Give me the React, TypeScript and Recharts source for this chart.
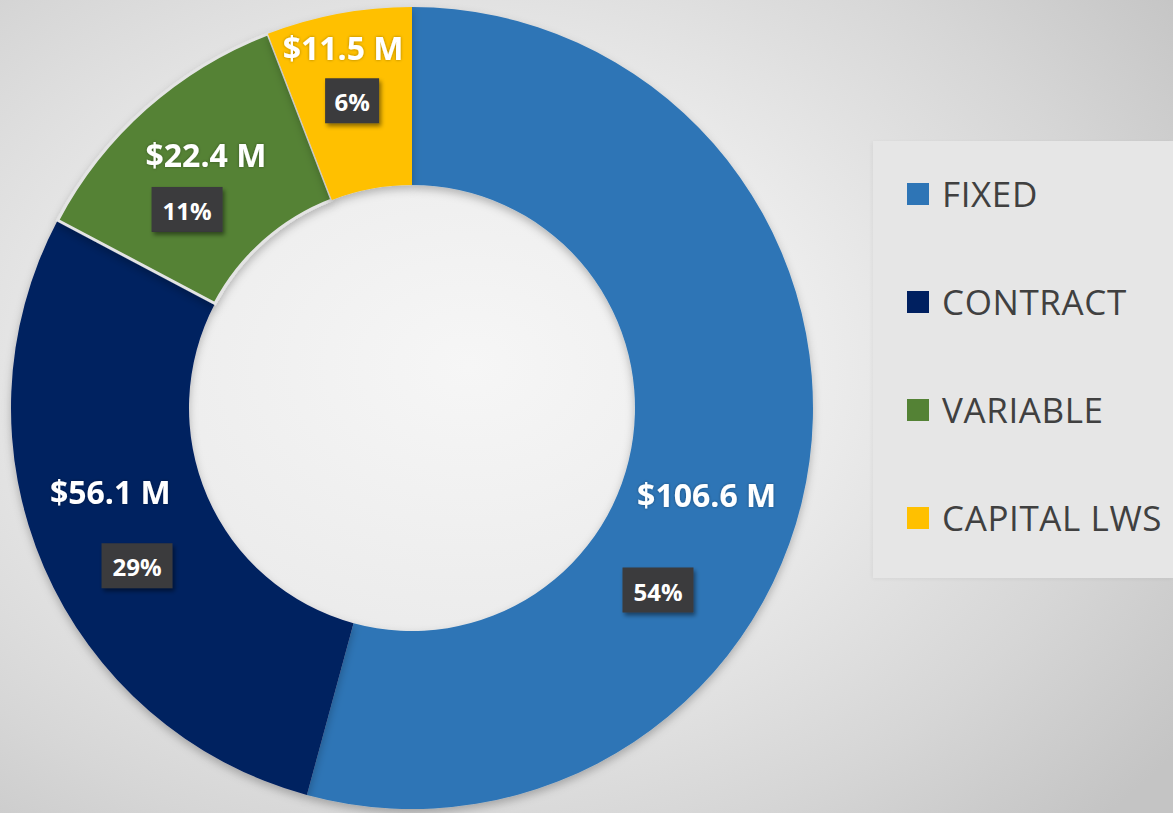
import React from 'react';
import { PieChart, Pie, Cell, Legend } from 'recharts';

const categories = ['FIXED', 'CONTRACT', 'VARIABLE', 'CAPITAL LWS'];
const amounts = [106.6, 56.1, 22.4, 11.5];
const colors = ['#2E75B6', '#002060', '#548235', '#FFC000'];

// label placement tweaks: clockwise angle offset from slice middle (deg) and radius
const valueLabelAngle = [8.7, 8, 2.5, -0.3];
const valueLabelRadius = [307, 313, 327, 367];
const pctLabelAngle = [28.9, -6.4, -7, -0.5];
const pctLabelRadius = [306, 317, 300, 313];

const data = categories.map((name, i) => ({ name, value: amounts[i] }));

const RAD = Math.PI / 180;
const FONT = '"Open Sans", "Liberation Sans", sans-serif';

function polar(cx: number, cy: number, r: number, angle: number) {
  return { x: cx + r * Math.cos(-angle * RAD), y: cy + r * Math.sin(-angle * RAD) };
}

const renderLabel = (props: any) => {
  const { cx, cy, midAngle, percent, value, index } = props;
  const v = polar(cx, cy, valueLabelRadius[index], midAngle - valueLabelAngle[index]);
  const p = polar(cx, cy, pctLabelRadius[index], midAngle - pctLabelAngle[index]);
  const pctText = `${Math.round(percent * 100)}%`;
  const w = 17 * pctText.length + 20;
  const h = 45;
  return (
    <g key={`lbl-${index}`}>
      <text
        x={v.x}
        y={v.y}
        textAnchor="middle"
        dominantBaseline="central"
        fill="#ffffff"
        fontFamily={FONT}
        fontWeight={700}
        fontSize={32}
        style={{ filter: 'url(#txtGlow)' }}
      >
        {`$${value.toFixed(1)} M`}
      </text>
      <rect
        x={p.x - w / 2}
        y={p.y - h / 2}
        width={w}
        height={h}
        fill="#3a3a3c"
        filter="url(#boxShadow)"
      />
      <text
        x={p.x}
        y={p.y + 1}
        textAnchor="middle"
        dominantBaseline="central"
        fill="#ffffff"
        fontFamily={FONT}
        fontWeight={700}
        fontSize={24}
      >
        {pctText}
      </text>
    </g>
  );
};

const LegendBox = () => (
  <div
    style={{
      width: 300,
      height: 437,
      background: '#e6e6e6',
      boxShadow: '-1px 1px 4px rgba(0,0,0,0.05)',
      position: 'relative',
      fontFamily: FONT,
    }}
  >
    {categories.map((c, i) => (
      <div
        key={c}
        style={{
          position: 'absolute',
          left: 34,
          top: 53 + i * 108 - 22,
          height: 44,
          display: 'flex',
          alignItems: 'center',
          whiteSpace: 'nowrap',
        }}
      >
        <span style={{ width: 22, height: 22, background: colors[i], display: 'inline-block', marginRight: 13 }} />
        <span style={{ fontSize: 35, color: '#404040', lineHeight: '44px', letterSpacing: 0.6 }}>{c}</span>
      </div>
    ))}
  </div>
);

export default function App() {
  return (
    <div
      style={{
        position: 'absolute',
        left: 0,
        top: 0,
        width: 1173,
        height: 813,
        overflow: 'hidden',
        background: 'radial-gradient(ellipse 75% 80% at 40% 45%, #f6f6f6 0%, #ececec 40%, #d6d6d6 75%, #c4c4c4 100%)',
      }}
    >
      <svg width={0} height={0} style={{ position: 'absolute' }}>
        <defs>
          <filter id="ringShadow" x="-10%" y="-10%" width="120%" height="125%">
            <feDropShadow dx="0" dy="4" stdDeviation="4" floodColor="#000" floodOpacity="0.25" />
          </filter>
          <filter id="boxShadow" x="-20%" y="-20%" width="150%" height="160%">
            <feDropShadow dx="2" dy="3" stdDeviation="2" floodColor="#000" floodOpacity="0.45" />
          </filter>
          <filter id="txtGlow" x="-10%" y="-30%" width="120%" height="160%">
            <feDropShadow dx="0" dy="0" stdDeviation="1.5" floodColor="#000" floodOpacity="0.35" />
          </filter>
        </defs>
      </svg>
      <PieChart width={1173} height={813} margin={{ top: 0, right: 0, bottom: 0, left: 0 }}>
        <Pie
          data={data}
          dataKey="value"
          nameKey="name"
          cx={412}
          cy={408}
          innerRadius={223}
          outerRadius={401}
          startAngle={90}
          endAngle={-270}
          stroke="none"
          label={renderLabel}
          labelLine={false}
          isAnimationActive={false}
        >
          {data.map((d, i) => (
            <Cell
              key={d.name}
              fill={colors[i]}
              stroke={i === 2 ? '#e4e4e4' : 'none'}
              strokeWidth={i === 2 ? 3 : 0}
              filter="url(#ringShadow)"
            />
          ))}
        </Pie>
        <Legend
          content={<LegendBox />}
          wrapperStyle={{ position: 'absolute', left: 873, top: 141, width: 300, height: 437 }}
        />
      </PieChart>
    </div>
  );
}
